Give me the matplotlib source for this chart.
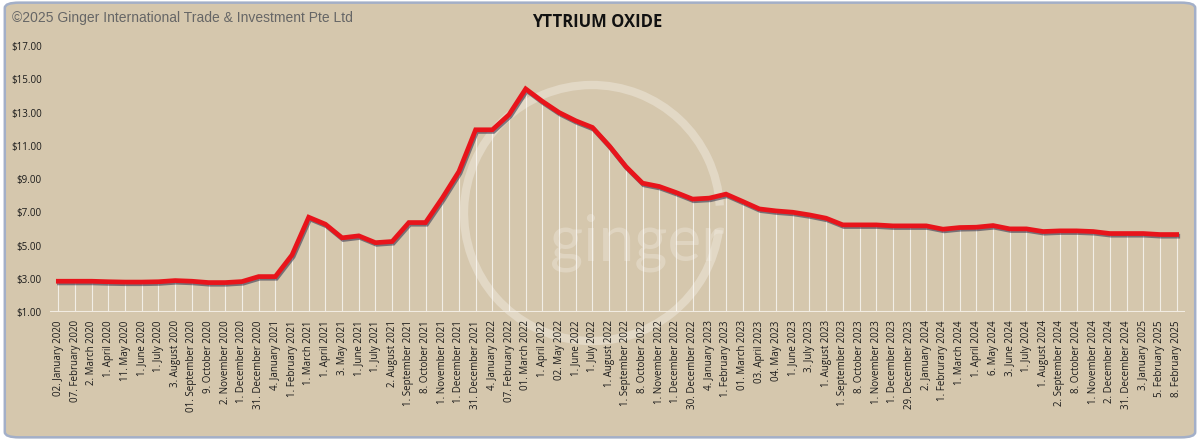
import numpy as np
import matplotlib
matplotlib.use("Agg")
import matplotlib.pyplot as plt
import matplotlib.patheffects as pe
from matplotlib.patches import FancyBboxPatch, Arc

# data (USD per kg)
dates = [
    "02. January 2020", "07. February 2020", "2. March 2020", "1. April 2020",
    "11. May 2020", "1. June 2020", "1. July 2020", "3. August 2020",
    "01. September 2020", "9. October 2020", "2. November 2020", "1. December 2020",
    "31. December 2020", "4. January 2021", "1. February 2021", "1. March 2021",
    "1. April 2021", "3. May 2021", "1. June 2021", "1. July 2021",
    "2. August 2021", "1. September 2021", "8. October 2021", "1. November 2021",
    "1. December 2021", "31. December 2021", "4. January 2022", "07. February 2022",
    "01. March 2022", "1. April 2022", "02. May 2022", "1. June 2022",
    "1. July 2022", "1. August 2022", "1. September 2022", "8. October 2022",
    "1. November 2022", "1. December 2022", "30. December 2022", "4. January 2023",
    "1. February 2023", "01. March 2023", "03. April 2023", "04. May 2023",
    "1. June 2023", "3. July 2023", "1. August 2023", "1. September 2023",
    "8. October 2023", "1. November 2023", "1. December 2023", "29. December 2023",
    "2. January 2024", "1. Februrary 2024", "1. March 2024", "1. April 2024",
    "6. May 2024", "3. June 2024", "1. July 2024", "1. August 2024",
    "2. September 2024", "8. October 2024", "1. November 2024", "2. December 2024",
    "31. December 2024", "3. January 2025", "5. February 2025", "8. February 2025",
]
prices = [
    2.85, 2.85, 2.85, 2.82, 2.80, 2.80, 2.82, 2.89, 2.85, 2.77, 2.77, 2.83,
    3.13, 3.13, 4.43, 6.70, 6.28, 5.46, 5.58, 5.17, 5.24, 6.38, 6.38, 7.85,
    9.45, 11.96, 11.96, 12.87, 14.42, 13.67, 13.00, 12.50, 12.10, 11.00, 9.75, 8.75,
    8.55, 8.19, 7.79, 7.85, 8.09, 7.65, 7.20, 7.08, 7.00, 6.84, 6.64, 6.24,
    6.24, 6.24, 6.18, 6.18, 6.18, 5.98, 6.08, 6.10, 6.20, 6.00, 6.00, 5.84,
    5.88, 5.88, 5.84, 5.72, 5.72, 5.72, 5.66, 5.66,
]
yticks = [1, 3, 5, 7, 9, 11, 13, 15, 17]

bg = "#D5C7AD"
x = np.arange(len(prices))

fig = plt.figure(figsize=(12, 4.4), dpi=100)
fig.patch.set_facecolor("white")

# rounded chart frame
frame = FancyBboxPatch((0.004, 0.006), 0.992, 0.988,
                       boxstyle="round,pad=0,rounding_size=0.012",
                       transform=fig.transFigure, facecolor=bg,
                       edgecolor="#A3AFC8", linewidth=1.8, zorder=0)
fig.patches.append(frame)

# watermark
fig.patches.append(Arc((592 / 1200, 1 - 213 / 440), 256 / 1200, 256 / 440,
                       theta1=9, theta2=340, transform=fig.transFigure,
                       color="#EFE9DE", alpha=0.5, linewidth=6, zorder=1))
fig.text(637 / 1200, 1 - 243 / 440, "ginger", fontsize=46, family="Lato",
         fontweight="normal", color="#EFE9DE", alpha=0.4,
         ha="center", va="center", zorder=1)

ax = fig.add_axes([50 / 1200, 1 - 312 / 440, 1135 / 1200, 266 / 440])
ax.set_facecolor("none")
ax.set_zorder(2)

# drop lines
ax.vlines(x, 1, prices, color="white", alpha=0.7, linewidth=0.8, zorder=2)
ax.axhline(1, color="#F2ECE2", linewidth=2.2, zorder=3)

ax.plot(x, prices, color="#E8141B", linewidth=3.4, solid_joinstyle="miter",
        zorder=4,
        path_effects=[pe.SimpleLineShadow(offset=(0.8, -1.2), shadow_color="#2A2A48",
                                          alpha=0.55),
                      pe.Normal()])

ax.set_xlim(-0.5, len(prices) - 0.5)
ax.set_ylim(1, 17)
ax.set_yticks(yticks)
ax.set_yticklabels([f"${v:.2f}" for v in yticks], fontsize=7, family="Open Sans",
                   color="#1A1A1A")
ax.set_xticks(x)
ax.set_xticklabels(dates, rotation=90, fontsize=7, family="Open Sans",
                   color="#1A1A1A")
ax.tick_params(length=0, pad=6)
for s in ax.spines.values():
    s.set_visible(False)

fig.text(0.498, 1 - 22 / 440, "YTTRIUM OXIDE", fontsize=12, fontweight="bold",
         family="Open Sans", ha="center", va="center", color="#111111")
fig.text(12 / 1200, 1 - 18 / 440, "\u00a92025 Ginger International Trade & Investment Pte Ltd",
         fontsize=10, family="Liberation Sans", color="#666666",
         ha="left", va="center")

fig.savefig("out.png", dpi=100, facecolor=fig.get_facecolor())
